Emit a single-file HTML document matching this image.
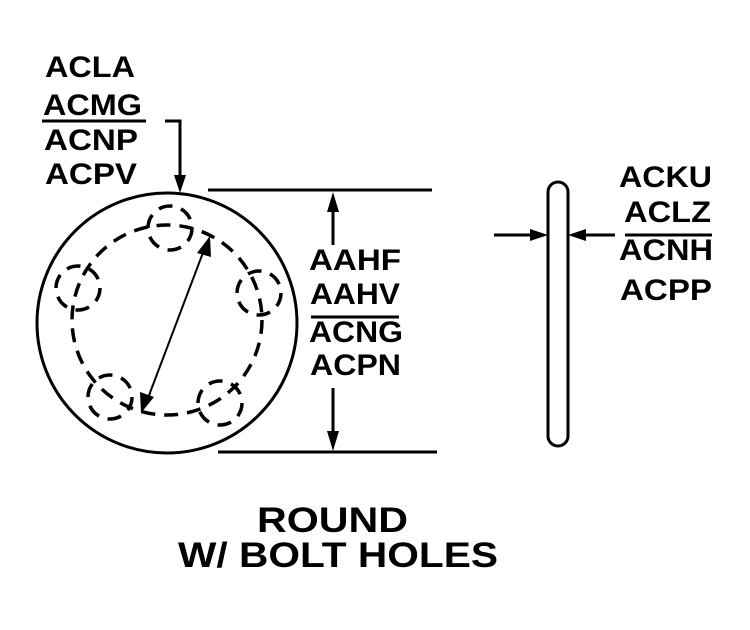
<!DOCTYPE html>
<html><head><style>html,body{margin:0;padding:0;background:#fff}svg{display:block}</style></head>
<body>
<svg width="750" height="630" viewBox="0 0 750 630" xmlns="http://www.w3.org/2000/svg">
<g font-family="Liberation Sans, Arial, sans-serif" font-weight="bold" fill="#000">
<text x="45" y="77" font-size="30" textLength="90" lengthAdjust="spacingAndGlyphs">ACLA</text>
<text x="43" y="115" font-size="30" textLength="99" lengthAdjust="spacingAndGlyphs">ACMG</text>
<text x="44" y="150" font-size="30" textLength="94" lengthAdjust="spacingAndGlyphs">ACNP</text>
<text x="45" y="184" font-size="30" textLength="92" lengthAdjust="spacingAndGlyphs">ACPV</text>
<text x="309" y="270" font-size="30" textLength="92" lengthAdjust="spacingAndGlyphs">AAHF</text>
<text x="310" y="304" font-size="30" textLength="90" lengthAdjust="spacingAndGlyphs">AAHV</text>
<text x="309" y="342" font-size="30" textLength="94" lengthAdjust="spacingAndGlyphs">ACNG</text>
<text x="310" y="375" font-size="30" textLength="91" lengthAdjust="spacingAndGlyphs">ACPN</text>
<text x="619" y="187" font-size="30" textLength="93" lengthAdjust="spacingAndGlyphs">ACKU</text>
<text x="624" y="222" font-size="30" textLength="87" lengthAdjust="spacingAndGlyphs">ACLZ</text>
<text x="619" y="260" font-size="30" textLength="94" lengthAdjust="spacingAndGlyphs">ACNH</text>
<text x="620" y="300" font-size="30" textLength="92" lengthAdjust="spacingAndGlyphs">ACPP</text>
<text x="257" y="532" font-size="35" textLength="151" lengthAdjust="spacingAndGlyphs">ROUND</text>
<text x="178" y="567" font-size="35" textLength="320" lengthAdjust="spacingAndGlyphs">W/ BOLT HOLES</text>
</g>
<g stroke="#000" stroke-width="3" fill="none">
<line x1="42" y1="121" x2="146" y2="121"/>
<line x1="311" y1="317" x2="399" y2="317"/>
<line x1="625" y1="235" x2="712" y2="235"/>
<polyline points="165,121 180,121 180,178"/>
<circle cx="167" cy="323" r="130"/>
<line x1="208" y1="190" x2="432" y2="190"/>
<line x1="218" y1="452" x2="437" y2="452"/>
<line x1="333" y1="205" x2="333" y2="245"/>
<line x1="333" y1="388" x2="333" y2="438"/>
<rect x="548" y="182" width="20" height="264" rx="10"/>
<line x1="494" y1="235" x2="535" y2="235"/>
<line x1="580" y1="235" x2="615" y2="235"/>
<g stroke-dasharray="14,9" stroke-width="3.5">
<circle cx="167" cy="320" r="95"/>
<circle cx="170" cy="228" r="22"/>
<circle cx="259" cy="293" r="22"/>
<circle cx="220" cy="403" r="22"/>
<circle cx="110" cy="397" r="22"/>
<circle cx="78" cy="288" r="22"/>
</g>
<line x1="204" y1="250" x2="148" y2="398" stroke-width="2"/>
</g>
<g fill="#000">
<polygon points="180,193 174,175 186,175"/>
<polygon points="333,192 327,212 339,212"/>
<polygon points="333,451 327,431 339,431"/>
<polygon points="548,235 530,229 530,241"/>
<polygon points="568,235 586,229 586,241"/>
<polygon points="210,236 197,253 211,257"/>
<polygon points="141,413 140,392 154,397"/>
</g>
</svg>
</body></html>
